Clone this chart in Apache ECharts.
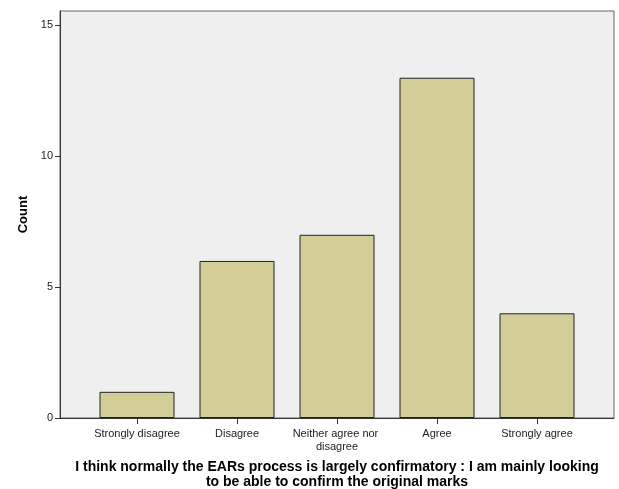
<!DOCTYPE html>
<html>
<head>
<meta charset="utf-8">
<script src="https://cdn.jsdelivr.net/npm/echarts@6/dist/echarts.min.js"></script>
<style>html,body{margin:0;padding:0;background:#fff;}#c{width:619px;height:489px;}</style>
</head>
<body>
<div id="c"></div>
<script>
var categories = ['Strongly disagree', 'Disagree', 'Neither agree nor disagree', 'Agree', 'Strongly agree'];
var counts = [1, 6, 7, 13, 4];
var yTicks = [0, 5, 10, 15];
var xTitle = 'I think normally the EARs process is largely confirmatory : I am mainly looking\nto be able to confirm the original marks';
var yTitle = 'Count';

var chart = echarts.init(document.getElementById('c'));
var idx = categories.map(function (_, i) { return i; });
chart.setOption({
  animation: false,
  backgroundColor: '#ffffff',
  grid: {
    left: 60, right: 5, top: 11, bottom: 71,
    outerBoundsMode: 'none', containLabel: false,
    show: true, backgroundColor: '#efefef', borderColor: '#666', borderWidth: 1
  },
  xAxis: {
    type: 'value', min: -0.77, max: 4.77,
    splitLine: { show: false },
    axisLine: { show: true, onZero: false, lineStyle: { color: '#333', width: 1 } },
    axisTick: { show: true, customValues: idx, length: 6, lineStyle: { color: '#333' } },
    axisLabel: {
      customValues: idx,
      formatter: function (v) { return categories[Math.round(v)]; },
      width: 100, overflow: 'break',
      fontFamily: 'Liberation Sans, Arial, sans-serif', fontSize: 11, color: '#222',
      lineHeight: 13, margin: 9
    },
    name: xTitle, nameLocation: 'middle', nameGap: 42,
    nameTextStyle: { fontFamily: 'Liberation Sans, Arial, sans-serif', fontSize: 14, fontWeight: 'bold', color: '#000', lineHeight: 15 }
  },
  yAxis: {
    type: 'value', min: 0, max: 15.55,
    splitLine: { show: false },
    axisLine: { show: true, onZero: false, lineStyle: { color: '#333', width: 1 } },
    axisTick: { show: true, customValues: yTicks, length: 5, lineStyle: { color: '#333' } },
    axisLabel: {
      customValues: yTicks,
      fontFamily: 'Liberation Sans, Arial, sans-serif', fontSize: 11, color: '#222', margin: 7
    },
    name: yTitle, nameLocation: 'middle', nameGap: 24, nameRotate: 90,
    nameTextStyle: { fontFamily: 'Liberation Sans, Arial, sans-serif', fontSize: 13, fontWeight: 'bold', color: '#000' }
  },
  series: [{
    type: 'bar',
    data: counts.map(function (v, i) { return [i, v]; }),
    barWidth: 75,
    itemStyle: { color: '#d3ce97', borderColor: '#222', borderWidth: 1 }
  }]
});
</script>
</body>
</html>
